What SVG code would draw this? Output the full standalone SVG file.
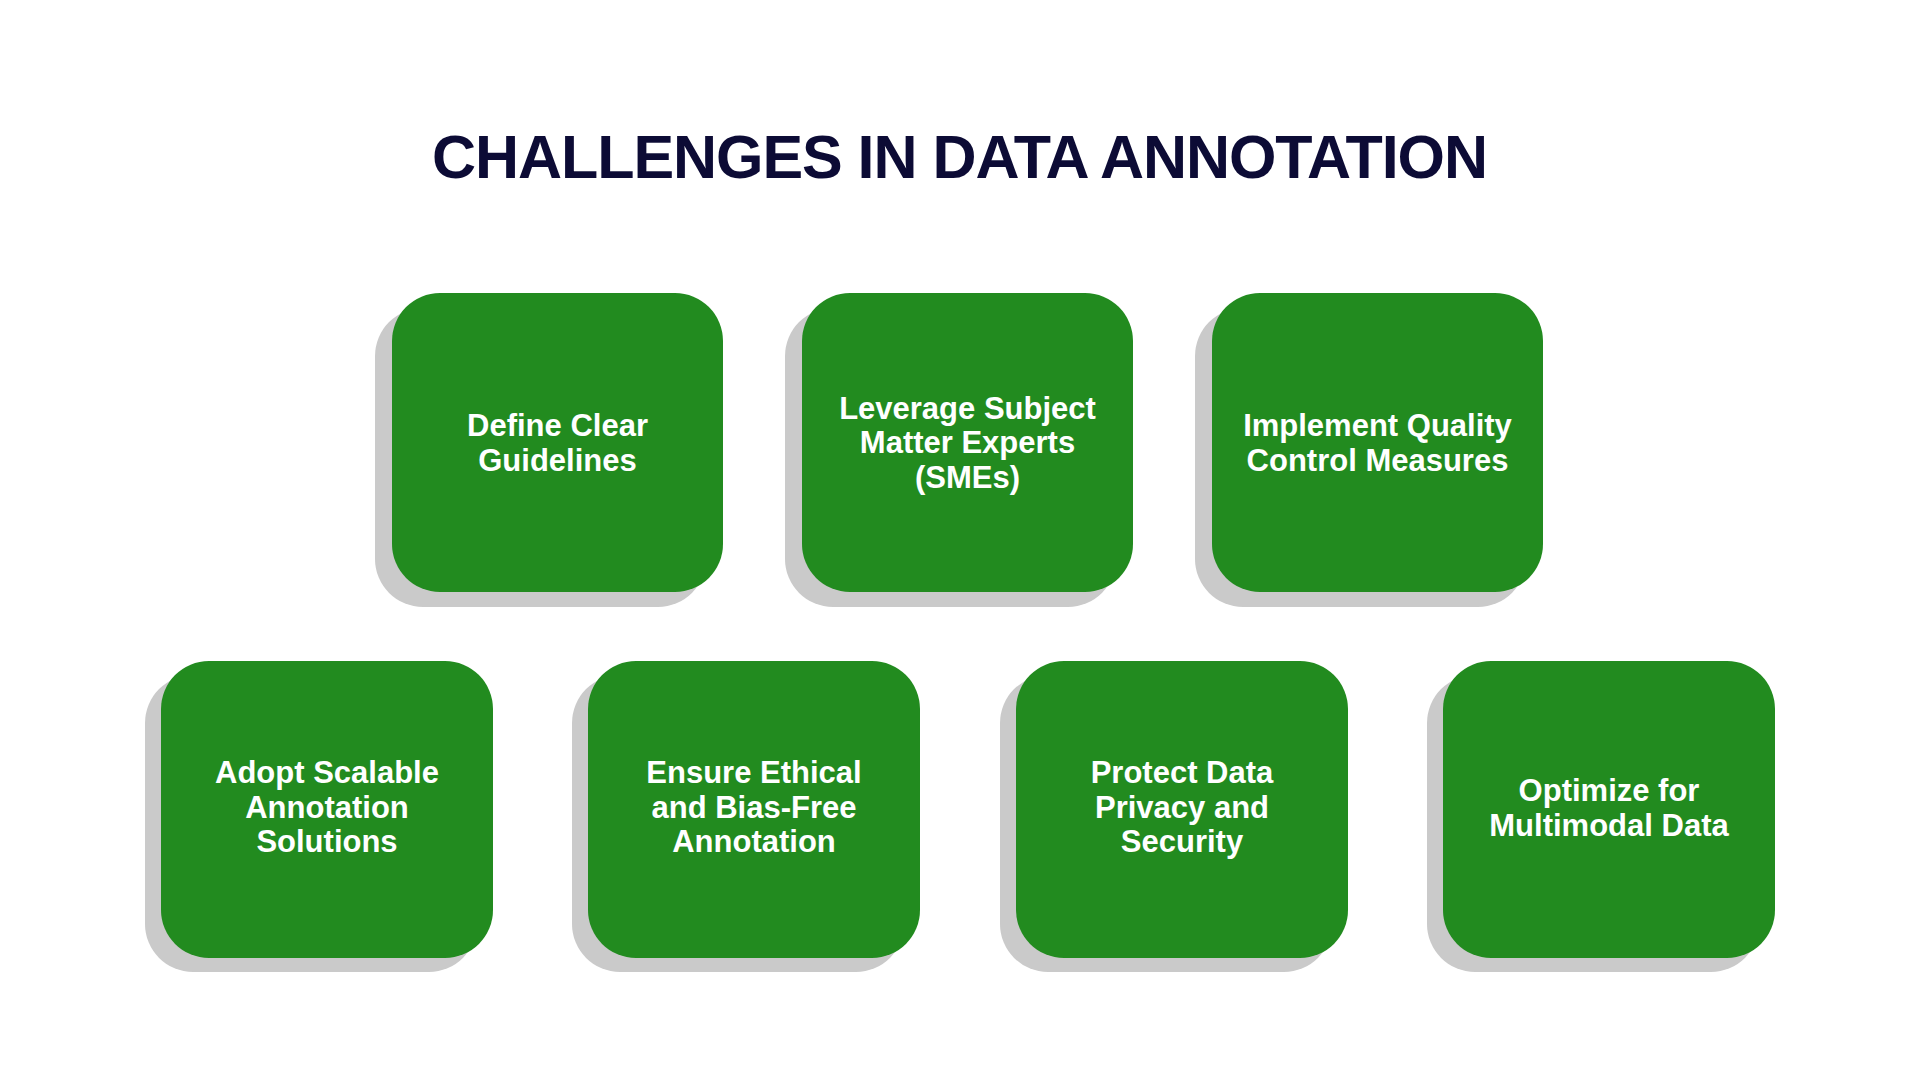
<svg xmlns="http://www.w3.org/2000/svg" width="1920" height="1080" viewBox="0 0 1920 1080">
<defs>
<style>
.shadow{fill:#cacaca}
.card{fill:#228b1f}
.lbl{font-family:"Liberation Sans",Arial,sans-serif;font-weight:700;font-size:31px;fill:#ffffff;text-anchor:middle}
.title{font-family:"Liberation Sans",Arial,sans-serif;font-weight:700;font-size:61px;fill:#0c0b35;text-anchor:middle}
</style>
</defs>
<rect width="1920" height="1080" fill="#ffffff"/>
<text class="title" x="960" y="178" textLength="1056" lengthAdjust="spacing">CHALLENGES IN DATA ANNOTATION</text>
<g id="connectors"/>
<g id="node1">
<rect class="shadow" x="375" y="308" width="331" height="299" rx="48"/>
<rect class="card" x="392" y="293" width="331" height="299" rx="48"/>
<text class="lbl" x="557.5" y="436">Define Clear</text>
<text class="lbl" x="557.5" y="470.5">Guidelines</text>
</g>
<g id="node2">
<rect class="shadow" x="785" y="308" width="331" height="299" rx="48"/>
<rect class="card" x="802" y="293" width="331" height="299" rx="48"/>
<text class="lbl" x="967.5" y="418.5">Leverage Subject</text>
<text class="lbl" x="967.5" y="453">Matter Experts</text>
<text class="lbl" x="967.5" y="487.5">(SMEs)</text>
</g>
<g id="node3">
<rect class="shadow" x="1195" y="308" width="331" height="299" rx="48"/>
<rect class="card" x="1212" y="293" width="331" height="299" rx="48"/>
<text class="lbl" x="1377.5" y="436">Implement Quality</text>
<text class="lbl" x="1377.5" y="470.5">Control Measures</text>
</g>
<g id="node4">
<rect class="shadow" x="145" y="675" width="332" height="297" rx="48"/>
<rect class="card" x="161" y="661" width="332" height="297" rx="48"/>
<text class="lbl" x="327" y="783">Adopt Scalable</text>
<text class="lbl" x="327" y="817.5">Annotation</text>
<text class="lbl" x="327" y="852">Solutions</text>
</g>
<g id="node5">
<rect class="shadow" x="572" y="675" width="332" height="297" rx="48"/>
<rect class="card" x="588" y="661" width="332" height="297" rx="48"/>
<text class="lbl" x="754" y="783">Ensure Ethical</text>
<text class="lbl" x="754" y="817.5">and Bias-Free</text>
<text class="lbl" x="754" y="852">Annotation</text>
</g>
<g id="node6">
<rect class="shadow" x="1000" y="675" width="332" height="297" rx="48"/>
<rect class="card" x="1016" y="661" width="332" height="297" rx="48"/>
<text class="lbl" x="1182" y="783">Protect Data</text>
<text class="lbl" x="1182" y="817.5">Privacy and</text>
<text class="lbl" x="1182" y="852">Security</text>
</g>
<g id="node7">
<rect class="shadow" x="1427" y="675" width="332" height="297" rx="48"/>
<rect class="card" x="1443" y="661" width="332" height="297" rx="48"/>
<text class="lbl" x="1609" y="801">Optimize for</text>
<text class="lbl" x="1609" y="835.5">Multimodal Data</text>
</g>
</svg>
